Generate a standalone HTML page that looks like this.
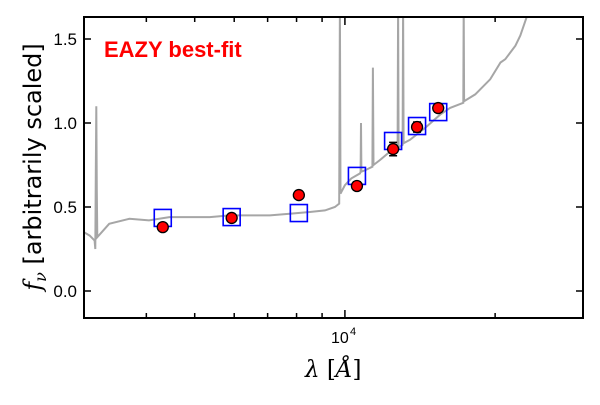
<!DOCTYPE html>
<html><head><meta charset="utf-8"><style>
body{margin:0;background:#fff;}
svg text{font-family:"Liberation Sans","DejaVu Sans",sans-serif;}
</style></head><body>
<svg id="chart" width="600" height="400" viewBox="0 0 600 400" xmlns="http://www.w3.org/2000/svg">
<defs><clipPath id="clip"><rect x="84" y="17" width="499" height="301"/></clipPath></defs>
<g id="plot"></g>
<text x="331" y="343" font-size="16" style="font-size:16px">10</text>
<text x="350" y="335" font-size="11" style="font-size:11px">4</text>
<text x="104" y="57" style="font-size:22px;font-weight:bold" fill="#ff0000">EAZY best-fit</text>
<text x="305" y="377" style="font-size:23px;font-family:'DejaVu Serif','Liberation Serif',serif"><tspan font-style="italic">λ</tspan> [<tspan font-style="italic">Å</tspan>]</text>
<text transform="translate(41,167) rotate(-90)" text-anchor="middle" style="font-size:24px;font-family:'DejaVu Sans',sans-serif"><tspan font-style="italic" style="font-family:'DejaVu Serif',serif">f</tspan><tspan font-style="italic" dy="5" style="font-size:16px;font-family:'DejaVu Serif',serif">ν</tspan><tspan dy="-5"> [arbitrarily scaled]</tspan></text>
</svg>
<script>
const specLam = [3000,3080,3150,3160,3168,3175,3182,3190,3370,3700,4050,4450,4890,5360,5880,6450,7070,7750,8500,9120,9550,9740,9770,9800,10000,10300,10720,10750,10770,10790,11000,11350,11380,11410,11760,12200,12750,12780,12810,12900,13050,13080,13110,13500,14470,15520,16250,17270,17300,17330,18240,19550,20500,20960,21960,22460,23190];
const specFlux = [0.35,0.33,0.30,0.25,0.70,1.10,0.60,0.32,0.40,0.43,0.42,0.44,0.44,0.44,0.45,0.45,0.45,0.46,0.47,0.48,0.50,0.52,1.70,0.58,0.63,0.67,0.70,0.71,1.00,0.71,0.72,0.74,1.33,0.75,0.78,0.82,0.84,1.70,0.85,0.86,0.87,1.70,0.88,0.90,0.97,1.05,1.09,1.12,1.70,1.13,1.17,1.26,1.36,1.38,1.46,1.52,1.64];
const bandLam = [4315,5930,8085,10570,12490,13950,15380];
const obsFlux = [0.38,0.435,0.571,0.625,0.845,0.976,1.089];
const obsErr = [0.02,0.02,0.015,0.025,0.04,0.03,0.025];
const modelFlux = [0.435,0.44,0.464,0.685,0.893,0.982,1.065];
const yTicks = [0.0,0.5,1.0,1.5];
const yTickLabels = ["0.0","0.5","1.0","1.5"];
const xMinor = [4000,5000,6000,7000,8000,9000,20000];

const L=84,R=583,T=17,B=318;
const lmin=Math.log10(3000), lmax=Math.log10(30000);
function xs(l){return L+(Math.log10(l)-lmin)/(lmax-lmin)*(R-L);}
function ys(v){return 291-168*v;}
const NS="http://www.w3.org/2000/svg";
const g=document.getElementById('plot');
function mk(tag,attrs){const e=document.createElementNS(NS,tag);for(const k in attrs)e.setAttribute(k,attrs[k]);g.appendChild(e);return e;}

const pts=specLam.map((l,i)=>xs(l).toFixed(1)+','+ys(specFlux[i]).toFixed(1)).join(' ');
const sp=mk('polyline',{points:pts,fill:'none',stroke:'#a6a6a6','stroke-width':2,'clip-path':'url(#clip)'});



bandLam.forEach((l,i)=>{
  const r=mk('rect',{x:xs(l)-8.5,y:ys(modelFlux[i])-8.5,width:17,height:17,fill:'none',stroke:'#0000ff','stroke-width':1.6});
  
  
});
bandLam.forEach((l,i)=>{
  const x=xs(l),y=ys(obsFlux[i]),e=obsErr[i]*168;
  const eb=mk('path',{d:`M${x},${y-e}V${y+e}M${x-4},${y-e}H${x+4}M${x-4},${y+e}H${x+4}`,stroke:'#000','stroke-width':1.5,fill:'none'});
  
  
  const c=mk('circle',{cx:x,cy:y,r:5.5,fill:'#ff0000',stroke:'#000','stroke-width':1.3});
  
  
});

const fr=mk('rect',{x:L,y:T,width:R-L,height:B-T,fill:'none',stroke:'#000','stroke-width':2});



yTicks.forEach((v,i)=>{
  const y=ys(v);
  mk('path',{d:`M${L},${y}h7M${R},${y}h-7`,stroke:'#000','stroke-width':1.5});
  const t=mk('text',{x:L-7,y:y+6,'text-anchor':'end',style:'font-size:17px'});
  t.textContent=yTickLabels[i];
  
  
});
xMinor.forEach(l=>{const x=xs(l);mk('path',{d:`M${x},${B}v-5M${x},${T}v5`,stroke:'#000','stroke-width':1.5});});
const xm=xs(10000);
mk('path',{d:`M${xm},${B}v-8M${xm},${T}v8`,stroke:'#000','stroke-width':1.5});
</script>
</body></html>
